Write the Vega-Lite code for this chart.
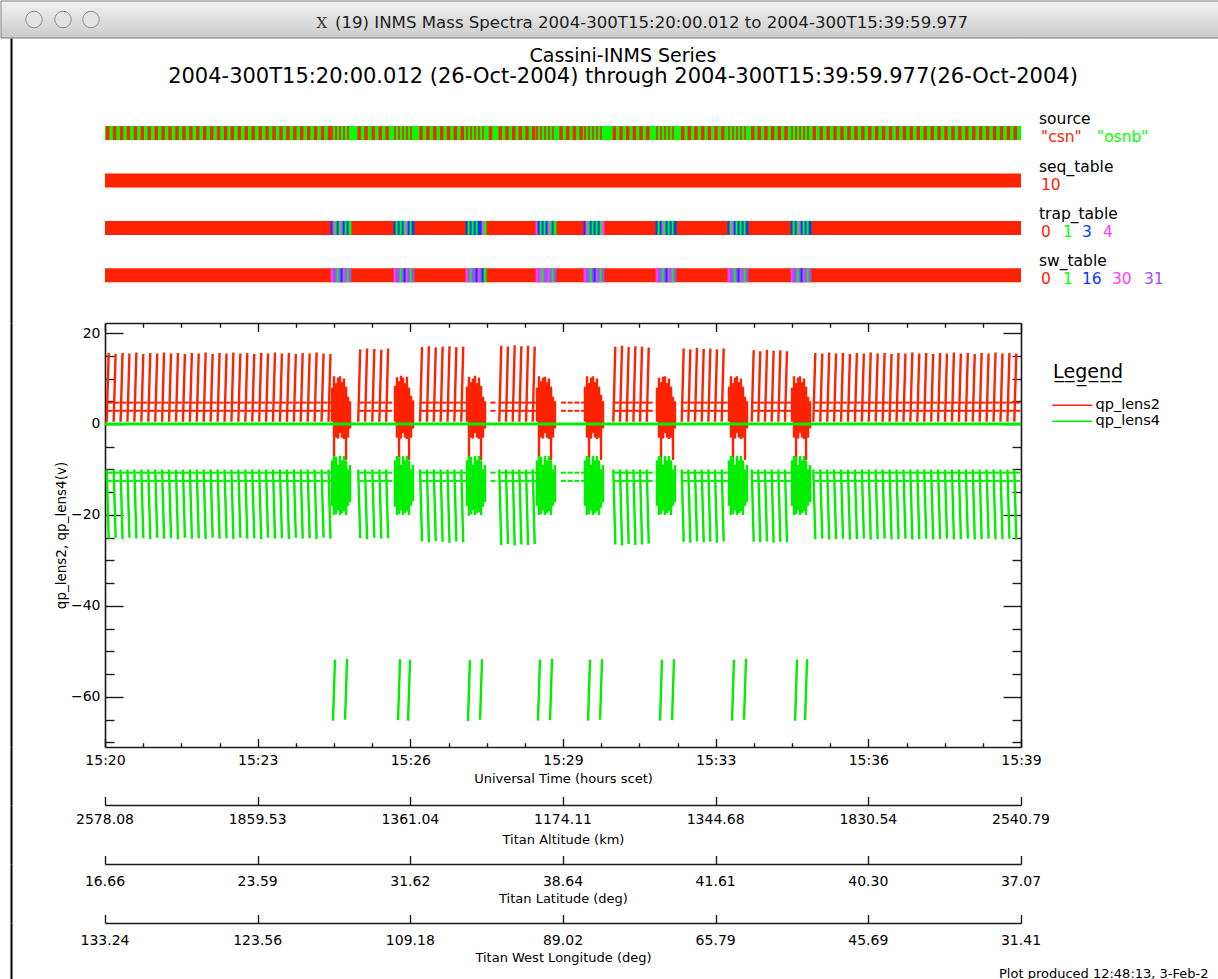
{
  "$schema": "https://vega.github.io/schema/vega-lite/v6.json",
  "padding": 0,
  "background": "#ffffff",
  "bounds": "flush",
  "spacing": 0,
  "config": {
    "font": "DejaVu Sans",
    "view": {"stroke": null},
    "axis": {
      "grid": false,
      "domainColor": "#1a1a1a",
      "tickColor": "#1a1a1a",
      "labelColor": "#000000",
      "titleColor": "#000000",
      "labelFontSize": 14,
      "titleFontSize": 13,
      "titleFontWeight": "normal",
      "domainWidth": 1.6,
      "tickWidth": 1.4,
      "labelFlush": false,
      "labelOverlap": false,
      "labelBound": false
    },
    "title": {"fontWeight": "normal", "color": "#000000"}
  },
  "resolve": {
    "scale": {"x": "independent", "y": "independent", "color": "independent"},
    "legend": {"color": "independent"}
  },
  "datasets": {
    "cyc": [
      {"t":3.5,"r":15.6,"g":-25.2},{"t":12.6,"r":15.4,"g":-25.0},{"t":21.7,"r":15.6,"g":-25.3},{"t":30.7,"r":15.5,"g":-25.0},
      {"t":39.8,"r":15.7,"g":-25.2},{"t":48.9,"r":15.4,"g":-25.1},{"t":58.0,"r":15.6,"g":-25.3},{"t":67.1,"r":15.5,"g":-25.0},
      {"t":76.1,"r":15.7,"g":-25.2},{"t":85.2,"r":15.5,"g":-25.1},{"t":94.3,"r":15.6,"g":-25.3},{"t":103.4,"r":15.4,"g":-25.0},
      {"t":112.5,"r":15.6,"g":-25.2},{"t":121.5,"r":15.5,"g":-25.1},{"t":130.6,"r":15.7,"g":-25.3},{"t":139.7,"r":15.4,"g":-25.0},
      {"t":148.8,"r":15.6,"g":-25.2},{"t":157.9,"r":15.5,"g":-25.1},{"t":166.9,"r":15.7,"g":-25.3},{"t":176.0,"r":15.5,"g":-25.0},
      {"t":185.1,"r":15.6,"g":-25.2},{"t":194.2,"r":15.4,"g":-25.1},{"t":203.3,"r":15.6,"g":-25.3},{"t":212.3,"r":15.5,"g":-25.0},
      {"t":221.4,"r":15.7,"g":-25.2},{"t":230.5,"r":15.5,"g":-25.1},{"t":239.6,"r":15.6,"g":-25.3},{"t":248.7,"r":15.4,"g":-25.0},
      {"t":257.7,"r":15.6,"g":-25.2},{"t":266.8,"r":15.5,"g":-25.1},{"t":275.9,"r":15.7,"g":-25.3},{"t":285.0,"r":15.5,"g":-25.0},
      {"t":294.1,"r":15.4,"g":-25.2},
      {"t":333.0,"r":16.4,"g":-25.1},{"t":342.0,"r":16.6,"g":-25.3},{"t":351.5,"r":16.5,"g":-25.0},{"t":360.7,"r":16.3,"g":-25.2},
      {"t":369.6,"r":16.6,"g":-25.1},
      {"t":414.0,"r":16.9,"g":-25.8},{"t":423.0,"r":17.1,"g":-26.0},{"t":432.0,"r":16.8,"g":-25.7},{"t":441.0,"r":17.0,"g":-25.9},
      {"t":450.0,"r":17.1,"g":-26.1},{"t":459.0,"r":16.9,"g":-25.8},{"t":468.0,"r":17.0,"g":-26.0},
      {"t":505.0},
      {"t":517.8,"r":17.2,"g":-26.6},{"t":526.6,"r":17.0,"g":-26.4},{"t":535.4,"r":17.3,"g":-26.7},{"t":544.1,"r":17.1,"g":-26.5},
      {"t":552.9,"r":17.2,"g":-26.6},{"t":561.6,"r":17.0,"g":-26.4},
      {"t":597.4},{"t":606.1},{"t":614.9},{"t":623.6},
      {"t":667.2,"r":17.0,"g":-26.5},{"t":676.0,"r":17.2,"g":-26.7},{"t":684.7,"r":16.9,"g":-26.4},{"t":693.5,"r":17.1,"g":-26.6},
      {"t":702.2,"r":17.0,"g":-26.5},{"t":711.0,"r":16.8,"g":-26.3},
      {"t":756.8,"r":16.6,"g":-25.9},{"t":765.5,"r":16.4,"g":-26.1},{"t":774.2,"r":16.7,"g":-25.8},{"t":783.0,"r":16.5,"g":-26.0},
      {"t":791.7,"r":16.6,"g":-25.9},{"t":800.4,"r":16.4,"g":-26.1},{"t":809.2,"r":16.6,"g":-25.8},
      {"t":848.5,"r":16.2,"g":-25.9},{"t":857.1,"r":16.0,"g":-26.0},{"t":865.9,"r":16.3,"g":-25.8},{"t":874.6,"r":16.1,"g":-26.1},
      {"t":883.4,"r":16.2,"g":-25.9},{"t":892.1,"r":16.0,"g":-26.0},
      {"t":929.2,"r":15.6,"g":-25.3},{"t":938.3,"r":15.5,"g":-25.2},{"t":947.4,"r":15.7,"g":-25.4},{"t":956.4,"r":15.5,"g":-25.3},
      {"t":965.5,"r":15.6,"g":-25.2},{"t":974.6,"r":15.4,"g":-25.4},{"t":983.7,"r":15.6,"g":-25.3},{"t":992.8,"r":15.5,"g":-25.2},
      {"t":1001.8,"r":15.7,"g":-25.4},{"t":1010.9,"r":15.5,"g":-25.3},{"t":1020.0,"r":15.6,"g":-25.2},{"t":1029.1,"r":15.4,"g":-25.4},
      {"t":1038.2,"r":15.6,"g":-25.3},{"t":1047.3,"r":15.5,"g":-25.2},{"t":1056.3,"r":15.7,"g":-25.4},{"t":1065.4,"r":15.5,"g":-25.3},
      {"t":1074.5,"r":15.6,"g":-25.2},{"t":1083.6,"r":15.4,"g":-25.4},{"t":1092.7,"r":15.6,"g":-25.3},{"t":1101.7,"r":15.5,"g":-25.2},
      {"t":1110.8,"r":15.7,"g":-25.4},{"t":1119.9,"r":15.5,"g":-25.3},{"t":1129.0,"r":15.6,"g":-25.2},{"t":1138.1,"r":15.4,"g":-25.4},
      {"t":1147.1,"r":15.6,"g":-25.3},{"t":1156.2,"r":15.5,"g":-25.2},{"t":1165.3,"r":15.7,"g":-25.4},{"t":1174.4,"r":15.5,"g":-25.3},
      {"t":1183.5,"r":15.6,"g":-25.2},{"t":1192.5,"r":15.5,"g":-25.3}
    ],
    "blk": [
      {"t":297.4,"r1":0.5,"r2":8.0,"g1":-8.0,"g2":-18.0,"tr":"3","sw":"30","src":"csn"},
      {"t":300.0,"r1":-7.9,"r2":10.5,"g1":-7.0,"g2":-20.0,"tr":"4","sw":"31","src":"osnb","d":-65.2,"e":-51.8},
      {"t":302.7,"r1":-3.0,"r2":9.0,"g1":-7.2,"g2":-19.8,"tr":"1","sw":"31","src":"csn"},
      {"t":305.3,"r1":-3.2,"r2":10.2,"g1":-9.0,"g2":-19.0,"tr":"3","sw":"1","src":"osnb"},
      {"t":307.9,"r1":-2.0,"r2":10.5,"g1":-7.0,"g2":-20.0,"tr":"1","sw":"31","src":"csn"},
      {"t":310.5,"r1":-3.0,"r2":9.2,"g1":-8.0,"g2":-19.6,"tr":"4","sw":"16","src":"osnb"},
      {"t":313.1,"r1":-3.3,"r2":10.0,"g1":-7.0,"g2":-19.2,"tr":"3","sw":"30","src":"csn"},
      {"t":315.8,"r1":-7.9,"r2":8.2,"g1":-8.0,"g2":-20.0,"tr":"1","sw":"31","src":"osnb","d":-65.0,"e":-51.6},
      {"t":318.4,"r1":-3.0,"r2":6.0,"g1":-10.0,"g2":-18.0,"tr":"3","sw":"1","src":"csn"},
      {"t":321.0,"r1":-1.0,"r2":5.0,"g1":-9.0,"g2":-17.2,"tr":"1","sw":"31","src":"osnb"},

      {"t":379.9,"r1":0.5,"r2":8.4,"g1":-8.0,"g2":-18.2,"tr":"3","sw":"30","src":"csn"},
      {"t":382.5,"r1":-3.0,"r2":10.3,"g1":-7.0,"g2":-20.0,"tr":"1","sw":"31","src":"osnb"},
      {"t":385.2,"r1":-7.9,"r2":9.4,"g1":-7.2,"g2":-19.8,"tr":"3","sw":"31","src":"csn","d":-65.1,"e":-51.7},
      {"t":387.8,"r1":-3.2,"r2":10.6,"g1":-9.0,"g2":-19.0,"tr":"1","sw":"1","src":"osnb"},
      {"t":390.4,"r1":-2.0,"r2":10.2,"g1":-7.0,"g2":-20.0,"tr":"3","sw":"31","src":"csn"},
      {"t":393.0,"r1":-3.0,"r2":9.0,"g1":-8.0,"g2":-19.6,"tr":"1","sw":"16","src":"osnb"},
      {"t":395.6,"r1":-3.3,"r2":10.4,"g1":-7.0,"g2":-19.2,"tr":"4","sw":"30","src":"csn"},
      {"t":398.3,"r1":-7.9,"r2":8.0,"g1":-8.0,"g2":-20.0,"tr":"3","sw":"31","src":"osnb","d":-65.2,"e":-51.8},
      {"t":400.9,"r1":-3.0,"r2":6.2,"g1":-10.0,"g2":-18.0,"tr":"1","sw":"1","src":"csn"},
      {"t":403.5,"r1":-1.0,"r2":5.2,"g1":-9.0,"g2":-17.0,"tr":"3","sw":"31","src":"osnb"},

      {"t":474.2,"r1":0.5,"r2":8.2,"g1":-8.0,"g2":-18.0,"tr":"3","sw":"30","src":"csn"},
      {"t":476.8,"r1":-7.9,"r2":10.4,"g1":-7.0,"g2":-20.2,"tr":"1","sw":"31","src":"osnb","d":-65.3,"e":-51.9},
      {"t":479.5,"r1":-3.0,"r2":9.2,"g1":-7.2,"g2":-19.8,"tr":"3","sw":"1","src":"csn"},
      {"t":482.1,"r1":-3.2,"r2":10.0,"g1":-9.0,"g2":-19.0,"tr":"1","sw":"31","src":"osnb"},
      {"t":484.7,"r1":-2.0,"r2":10.6,"g1":-7.0,"g2":-20.0,"tr":"3","sw":"31","src":"csn"},
      {"t":487.3,"r1":-3.0,"r2":9.0,"g1":-8.0,"g2":-19.6,"tr":"1","sw":"16","src":"osnb"},
      {"t":489.9,"r1":-3.3,"r2":10.2,"g1":-7.0,"g2":-19.4,"tr":"3","sw":"30","src":"csn"},
      {"t":492.6,"r1":-7.9,"r2":8.4,"g1":-8.0,"g2":-20.0,"tr":"3","sw":"31","src":"osnb","d":-65.0,"e":-51.7},
      {"t":495.2,"r1":-3.0,"r2":6.0,"g1":-10.0,"g2":-18.2,"tr":"4","sw":"16","src":"csn"},
      {"t":497.8,"r1":-1.0,"r2":5.0,"g1":-9.0,"g2":-17.2,"tr":"1","sw":"1","src":"osnb"},

      {"t":565.9,"r1":0.5,"r2":8.0,"g1":-8.0,"g2":-18.0,"tr":"4","sw":"30","src":"csn"},
      {"t":568.5,"r1":-7.9,"r2":10.5,"g1":-7.0,"g2":-20.0,"tr":"3","sw":"31","src":"osnb","d":-65.2,"e":-51.8},
      {"t":571.2,"r1":-3.0,"r2":9.4,"g1":-7.2,"g2":-19.8,"tr":"1","sw":"30","src":"csn"},
      {"t":573.8,"r1":-3.2,"r2":10.2,"g1":-9.0,"g2":-19.0,"tr":"3","sw":"1","src":"osnb"},
      {"t":576.4,"r1":-2.0,"r2":10.4,"g1":-7.0,"g2":-20.0,"tr":"1","sw":"31","src":"csn"},
      {"t":579.0,"r1":-3.0,"r2":9.2,"g1":-8.0,"g2":-19.6,"tr":"3","sw":"31","src":"osnb"},
      {"t":581.6,"r1":-3.3,"r2":10.0,"g1":-7.0,"g2":-19.2,"tr":"4","sw":"30","src":"csn"},
      {"t":584.3,"r1":-7.9,"r2":8.2,"g1":-8.0,"g2":-20.0,"tr":"1","sw":"31","src":"osnb","d":-65.1,"e":-51.6},
      {"t":586.9,"r1":-3.0,"r2":6.0,"g1":-10.0,"g2":-18.0,"tr":"3","sw":"1","src":"csn"},
      {"t":589.5,"r1":-1.0,"r2":5.0,"g1":-9.0,"g2":-17.2,"tr":"1","sw":"31","src":"osnb"},

      {"t":628.8,"r1":0.5,"r2":8.2,"g1":-8.0,"g2":-18.0,"tr":"3","sw":"30","src":"csn"},
      {"t":631.4,"r1":-3.0,"r2":10.5,"g1":-7.0,"g2":-20.0,"tr":"4","sw":"31","src":"osnb"},
      {"t":634.1,"r1":-7.9,"r2":9.0,"g1":-7.2,"g2":-19.8,"tr":"1","sw":"31","src":"csn","d":-65.2,"e":-51.8},
      {"t":636.7,"r1":-3.2,"r2":10.2,"g1":-9.0,"g2":-19.0,"tr":"3","sw":"1","src":"osnb"},
      {"t":639.3,"r1":-2.0,"r2":10.5,"g1":-7.0,"g2":-20.0,"tr":"1","sw":"31","src":"csn"},
      {"t":641.9,"r1":-3.0,"r2":9.2,"g1":-8.0,"g2":-19.6,"tr":"3","sw":"16","src":"osnb"},
      {"t":644.5,"r1":-3.3,"r2":10.0,"g1":-7.0,"g2":-19.2,"tr":"1","sw":"30","src":"csn"},
      {"t":647.2,"r1":-3.0,"r2":8.2,"g1":-8.0,"g2":-20.0,"tr":"3","sw":"31","src":"osnb"},
      {"t":649.8,"r1":-7.9,"r2":6.4,"g1":-10.0,"g2":-18.4,"tr":"1","sw":"1","src":"csn","d":-65.0,"e":-51.7},
      {"t":652.4,"r1":-1.0,"r2":5.0,"g1":-9.0,"g2":-17.2,"tr":"4","sw":"31","src":"osnb"},

      {"t":723.1,"r1":0.5,"r2":8.0,"g1":-8.0,"g2":-18.0,"tr":"3","sw":"30","src":"csn"},
      {"t":725.7,"r1":-3.0,"r2":10.2,"g1":-7.0,"g2":-20.0,"tr":"1","sw":"31","src":"osnb"},
      {"t":728.4,"r1":-7.9,"r2":9.2,"g1":-7.2,"g2":-19.8,"tr":"3","sw":"31","src":"csn","d":-65.2,"e":-51.8},
      {"t":731.0,"r1":-3.2,"r2":10.4,"g1":-9.0,"g2":-19.0,"tr":"4","sw":"1","src":"osnb"},
      {"t":733.6,"r1":-2.0,"r2":10.5,"g1":-7.0,"g2":-20.0,"tr":"1","sw":"31","src":"csn"},
      {"t":736.2,"r1":-3.0,"r2":9.0,"g1":-8.0,"g2":-19.6,"tr":"3","sw":"16","src":"osnb"},
      {"t":738.8,"r1":-3.3,"r2":10.0,"g1":-7.0,"g2":-19.2,"tr":"1","sw":"30","src":"csn"},
      {"t":741.5,"r1":-3.0,"r2":8.2,"g1":-8.0,"g2":-20.0,"tr":"3","sw":"31","src":"osnb"},
      {"t":744.1,"r1":-7.9,"r2":6.0,"g1":-10.0,"g2":-18.0,"tr":"1","sw":"1","src":"csn","d":-65.1,"e":-51.7},
      {"t":746.7,"r1":-1.0,"r2":5.0,"g1":-9.0,"g2":-17.2,"tr":"3","sw":"31","src":"osnb"},

      {"t":817.4,"r1":0.5,"r2":8.2,"g1":-8.0,"g2":-18.0,"tr":"3","sw":"30","src":"csn"},
      {"t":820.0,"r1":-3.0,"r2":10.5,"g1":-7.0,"g2":-20.0,"tr":"1","sw":"31","src":"osnb"},
      {"t":822.7,"r1":-7.9,"r2":9.0,"g1":-7.2,"g2":-19.8,"tr":"4","sw":"31","src":"csn","d":-65.2,"e":-51.8},
      {"t":825.3,"r1":-3.2,"r2":10.2,"g1":-9.0,"g2":-19.0,"tr":"3","sw":"1","src":"osnb"},
      {"t":827.9,"r1":-2.0,"r2":10.5,"g1":-7.0,"g2":-20.0,"tr":"1","sw":"31","src":"csn"},
      {"t":830.5,"r1":-3.0,"r2":9.2,"g1":-8.0,"g2":-19.6,"tr":"3","sw":"16","src":"osnb"},
      {"t":833.1,"r1":-3.3,"r2":10.0,"g1":-7.0,"g2":-19.2,"tr":"1","sw":"30","src":"csn"},
      {"t":835.8,"r1":-3.0,"r2":8.2,"g1":-8.0,"g2":-20.0,"tr":"3","sw":"31","src":"osnb"},
      {"t":838.4,"r1":-7.9,"r2":6.0,"g1":-10.0,"g2":-18.0,"tr":"1","sw":"1","src":"csn","d":-65.0,"e":-51.6},
      {"t":841.0,"r1":-1.0,"r2":5.0,"g1":-9.0,"g2":-17.2,"tr":"3","sw":"31","src":"osnb"},

      {"t":900.0,"r1":0.5,"r2":8.0,"g1":-8.0,"g2":-18.0,"tr":"3","sw":"30","src":"csn"},
      {"t":902.6,"r1":-3.0,"r2":10.5,"g1":-7.0,"g2":-20.0,"tr":"1","sw":"31","src":"osnb"},
      {"t":905.3,"r1":-7.9,"r2":9.0,"g1":-7.2,"g2":-19.8,"tr":"3","sw":"31","src":"csn","d":-65.2,"e":-51.8},
      {"t":907.9,"r1":-3.2,"r2":10.2,"g1":-9.0,"g2":-19.0,"tr":"1","sw":"1","src":"osnb"},
      {"t":910.5,"r1":-2.0,"r2":10.5,"g1":-7.0,"g2":-20.0,"tr":"4","sw":"31","src":"csn"},
      {"t":913.1,"r1":-3.0,"r2":9.2,"g1":-8.0,"g2":-19.6,"tr":"3","sw":"16","src":"osnb"},
      {"t":915.7,"r1":-3.3,"r2":10.0,"g1":-7.0,"g2":-19.2,"tr":"1","sw":"30","src":"csn"},
      {"t":918.4,"r1":-7.9,"r2":8.2,"g1":-8.0,"g2":-20.0,"tr":"3","sw":"31","src":"osnb","d":-65.1,"e":-51.7},
      {"t":921.0,"r1":-3.0,"r2":6.0,"g1":-10.0,"g2":-18.0,"tr":"1","sw":"1","src":"csn"},
      {"t":923.6,"r1":-1.0,"r2":5.0,"g1":-9.0,"g2":-17.2,"tr":"3","sw":"31","src":"osnb"}
    ],
    "bars": [
      {"row":"source","a":0,"b":1199.965,"c":"osnb"},
      {"row":"seq_table","a":0,"b":1199.965,"c":"10"},
      {"row":"trap_table","a":0,"b":1199.965,"c":"0"},
      {"row":"sw_table","a":0,"b":1199.965,"c":"0"}
    ],
    "vals": [
      {"row":"source","txt":"\"csn\"","c":"csn","k":0},
      {"row":"source","txt":"\"osnb\"","c":"osnb","k":3},
      {"row":"seq_table","txt":"10","c":"10","k":0},
      {"row":"trap_table","txt":"0","c":"0","k":0},
      {"row":"trap_table","txt":"1","c":"1","k":1},
      {"row":"trap_table","txt":"3","c":"3","k":2},
      {"row":"trap_table","txt":"4","c":"4","k":4},
      {"row":"sw_table","txt":"0","c":"0","k":0},
      {"row":"sw_table","txt":"1","c":"1","k":1},
      {"row":"sw_table","txt":"16","c":"16","k":2},
      {"row":"sw_table","txt":"30","c":"30","k":5},
      {"row":"sw_table","txt":"31","c":"31","k":6}
    ],
    "base": [{"a":0,"b":1199.965,"v":0}],
    "geo": [
      {"t":0,"alt":2578.08,"lat":16.66,"lon":133.24},
      {"t":199.994,"alt":1859.53,"lat":23.59,"lon":123.56},
      {"t":399.988,"alt":1361.04,"lat":31.62,"lon":109.18},
      {"t":599.983,"alt":1174.11,"lat":38.64,"lon":89.02},
      {"t":799.977,"alt":1344.68,"lat":41.61,"lon":65.79},
      {"t":999.971,"alt":1830.54,"lat":40.30,"lon":45.69},
      {"t":1199.965,"alt":2540.79,"lat":37.07,"lon":31.41}
    ]
  },
  "vconcat": [
    {
      "width": 1218,
      "height": 37,
      "layer": [
        {
          "data": {"values": [{"a": 0, "b": 1}]},
          "mark": {"type": "rect", "fill": {"gradient": "linear", "x1": 0, "y1": 0, "x2": 0, "y2": 1, "stops": [{"offset": 0, "color": "#f2f2f2"}, {"offset": 1, "color": "#cbcbcb"}]}, "stroke": "#7c7c7c", "strokeWidth": 1},
          "encoding": {
            "x": {"field": "a", "type": "quantitative", "scale": {"domain": [0, 1]}, "axis": null},
            "x2": {"field": "b"}
          }
        },
        {
          "data": {"values": [{"p": 0.0271}, {"p": 0.0509}, {"p": 0.0739}]},
          "mark": {"type": "point", "filled": true, "size": 272, "fill": "#e3e3e3", "stroke": "#8a8a8a", "strokeWidth": 1, "opacity": 1},
          "encoding": {"x": {"field": "p", "type": "quantitative", "axis": null}}
        },
        {
          "data": {"values": [{"p": 0.2635, "txt": "X"}]},
          "mark": {"type": "text", "font": "DejaVu Serif", "fontSize": 15, "align": "center", "baseline": "middle", "dy": 3, "color": "#333333"},
          "encoding": {"x": {"field": "p", "type": "quantitative", "axis": null}, "text": {"field": "txt"}}
        },
        {
          "data": {"values": [{"p": 0.2742, "txt": "(19) INMS Mass Spectra 2004-300T15:20:00.012 to 2004-300T15:39:59.977"}]},
          "mark": {"type": "text", "fontSize": 16.6, "align": "left", "baseline": "middle", "dy": 3, "color": "#1e1e1e"},
          "encoding": {"x": {"field": "p", "type": "quantitative", "axis": null}, "text": {"field": "txt"}}
        }
      ]
    },
    {
      "width": 1218,
      "height": 285,
      "title": {
        "text": "Cassini-INMS Series",
        "subtitle": "2004-300T15:20:00.012 (26-Oct-2004) through 2004-300T15:39:59.977(26-Oct-2004)",
        "anchor": "middle",
        "frame": "group",
        "dx": 13,
        "offset": -49,
        "fontSize": 19,
        "subtitleFontSize": 21,
        "subtitlePadding": 0,
        "font": "DejaVu Sans",
        "subtitleFont": "DejaVu Sans",
        "color": "#000000",
        "subtitleColor": "#000000"
      },
      "resolve": {"axis": {"y": "independent"}},
      "layer": [
        {
          "data": {"name": "bars"},
          "mark": {"type": "rect"},
          "encoding": {
            "x": {"field": "a", "type": "quantitative", "scale": {"domain": [0, 1199.965], "range": [104, 1020], "nice": false, "zero": false}, "axis": null},
            "x2": {"field": "b"},
            "y": {
              "field": "row", "type": "nominal",
              "scale": {"domain": [" ", "source", "seq_table", "trap_table", "sw_table"], "paddingInner": 0.704, "paddingOuter": 0.859, "align": 0.5},
              "axis": null
            },
            "color": {
              "field": "c", "type": "nominal",
              "scale": {
                "domain": ["csn", "osnb", "10", "0", "1", "3", "4", "16", "30", "31"],
                "range": ["#ff2200", "#00ff00", "#ff2200", "#ff2200", "#00ff00", "#0040ff", "#ff40ff", "#0040ff", "#ff40ff", "#a050ff"]
              },
              "legend": null
            }
          }
        },
        {
          "data": {"name": "cyc"},
          "mark": {"type": "tick", "thickness": 3.4, "size": 14, "opacity": 1},
          "encoding": {
            "x": {"field": "t", "type": "quantitative"},
            "y": {"datum": "source", "type": "nominal", "axis": null},
            "color": {"datum": "csn", "type": "nominal", "legend": null}
          }
        },
        {
          "data": {"name": "blk"},
          "mark": {"type": "tick", "thickness": 1.6, "size": 14, "opacity": 1},
          "encoding": {
            "x": {"field": "t", "type": "quantitative"},
            "y": {"datum": "source", "type": "nominal", "axis": null},
            "color": {"field": "src", "type": "nominal", "legend": null}
          }
        },
        {
          "data": {"name": "blk"},
          "mark": {"type": "tick", "thickness": 2.8, "size": 14, "opacity": 1},
          "encoding": {
            "x": {"field": "t", "type": "quantitative"},
            "y": {"datum": "trap_table", "type": "nominal", "axis": null},
            "color": {"field": "tr", "type": "nominal", "legend": null}
          }
        },
        {
          "data": {"name": "blk"},
          "mark": {"type": "tick", "thickness": 2.8, "size": 14, "opacity": 1},
          "encoding": {
            "x": {"field": "t", "type": "quantitative"},
            "y": {
              "datum": "sw_table", "type": "nominal",
              "axis": {"orient": "left", "offset": -10, "domain": true, "ticks": false, "labels": false, "title": null, "domainColor": "#000000", "domainWidth": 2}
            },
            "color": {"field": "sw", "type": "nominal", "legend": null}
          }
        },
        {
          "data": {"name": "bars"},
          "mark": {"type": "text", "align": "left", "baseline": "middle", "dx": 18, "dy": -14, "fontSize": 15.5, "color": "#000000"},
          "encoding": {
            "x": {"datum": 1199.965, "type": "quantitative"},
            "y": {"field": "row", "type": "nominal", "axis": null},
            "text": {"field": "row"}
          }
        },
        {
          "data": {"name": "vals"},
          "transform": [{"filter": "datum.k == 0"}],
          "mark": {"type": "text", "align": "left", "baseline": "middle", "dx": 20, "dy": 4, "fontSize": 15.5},
          "encoding": {
            "x": {"datum": 1199.965, "type": "quantitative"},
            "y": {"field": "row", "type": "nominal", "axis": null},
            "text": {"field": "txt"},
            "color": {"field": "c", "type": "nominal", "legend": null}
          }
        },
        {
          "data": {"name": "vals"},
          "transform": [{"filter": "datum.k == 1"}],
          "mark": {"type": "text", "align": "left", "baseline": "middle", "dx": 42, "dy": 4, "fontSize": 15.5},
          "encoding": {
            "x": {"datum": 1199.965, "type": "quantitative"},
            "y": {"field": "row", "type": "nominal", "axis": null},
            "text": {"field": "txt"},
            "color": {"field": "c", "type": "nominal", "legend": null}
          }
        },
        {
          "data": {"name": "vals"},
          "transform": [{"filter": "datum.k == 2"}],
          "mark": {"type": "text", "align": "left", "baseline": "middle", "dx": 61, "dy": 4, "fontSize": 15.5},
          "encoding": {
            "x": {"datum": 1199.965, "type": "quantitative"},
            "y": {"field": "row", "type": "nominal", "axis": null},
            "text": {"field": "txt"},
            "color": {"field": "c", "type": "nominal", "legend": null}
          }
        },
        {
          "data": {"name": "vals"},
          "transform": [{"filter": "datum.k == 3"}],
          "mark": {"type": "text", "align": "left", "baseline": "middle", "dx": 76, "dy": 4, "fontSize": 15.5},
          "encoding": {
            "x": {"datum": 1199.965, "type": "quantitative"},
            "y": {"field": "row", "type": "nominal", "axis": null},
            "text": {"field": "txt"},
            "color": {"field": "c", "type": "nominal", "legend": null}
          }
        },
        {
          "data": {"name": "vals"},
          "transform": [{"filter": "datum.k == 4"}],
          "mark": {"type": "text", "align": "left", "baseline": "middle", "dx": 82, "dy": 4, "fontSize": 15.5},
          "encoding": {
            "x": {"datum": 1199.965, "type": "quantitative"},
            "y": {"field": "row", "type": "nominal", "axis": null},
            "text": {"field": "txt"},
            "color": {"field": "c", "type": "nominal", "legend": null}
          }
        },
        {
          "data": {"name": "vals"},
          "transform": [{"filter": "datum.k == 5"}],
          "mark": {"type": "text", "align": "left", "baseline": "middle", "dx": 91, "dy": 4, "fontSize": 15.5},
          "encoding": {
            "x": {"datum": 1199.965, "type": "quantitative"},
            "y": {"field": "row", "type": "nominal", "axis": null},
            "text": {"field": "txt"},
            "color": {"field": "c", "type": "nominal", "legend": null}
          }
        },
        {
          "data": {"name": "vals"},
          "transform": [{"filter": "datum.k == 6"}],
          "mark": {"type": "text", "align": "left", "baseline": "middle", "dx": 123, "dy": 4, "fontSize": 15.5},
          "encoding": {
            "x": {"datum": 1199.965, "type": "quantitative"},
            "y": {"field": "row", "type": "nominal", "axis": null},
            "text": {"field": "txt"},
            "color": {"field": "c", "type": "nominal", "legend": null}
          }
        }
      ]
    },
    {
      "width": 1218,
      "height": 424,
      "resolve": {"axis": {"x": "independent", "y": "independent"}},
      "layer": [
        {
          "data": {"name": "cyc"},
          "mark": {"type": "rule", "strokeWidth": 2.4, "xOffset": 1, "x2Offset": -1},
          "encoding": {
            "x": {
              "field": "t", "type": "quantitative",
              "scale": {"domain": [0, 1199.965], "range": [104, 1020], "nice": false, "zero": false},
              "axis": {
                "orient": "bottom",
                "values": [0, 199.994, 399.988, 599.983, 799.977, 999.971, 1199.965],
                "labelExpr": "utcFormat(utc(2004, 9, 26, 15, 20, 0, 12) + datum.value * 1000, '%H:%M')",
                "tickSize": -8.5,
                "labelPadding": 15,
                "title": "Universal Time (hours scet)",
                "titlePadding": 5
              }
            },
            "x2": {"field": "t"},
            "y": {
              "field": "r", "type": "quantitative",
              "scale": {"domain": [-71, 22.2], "nice": false, "zero": false},
              "axis": {
                "orient": "left",
                "offset": -104,
                "values": [-60, -40, -20, 0, 20],
                "format": "d",
                "tickSize": -18,
                "labelPadding": 23,
                "title": "qp_lens2, qp_lens4(v)",
                "titleFontSize": 13.5,
                "titlePadding": 2
              }
            },
            "y2": {"datum": 0.5},
            "color": {
              "datum": "qp_lens2", "type": "nominal",
              "scale": {"domain": ["qp_lens2", "qp_lens4"], "range": ["#ff2200", "#00ee00"]},
              "legend": {
                "title": "L\u0332e\u0332g\u0332e\u0332n\u0332d\u0332",
                "orient": "none",
                "legendX": 1052,
                "legendY": 40,
                "symbolType": "M-5,0H5",
                "symbolSize": 64,
                "symbolOffset": 12,
                "symbolStrokeWidth": 1.5,
                "labelOffset": 16,
                "labelFontSize": 14.5,
                "labelColor": "#000000",
                "titleFontSize": 19,
                "titleFontWeight": "normal",
                "titleColor": "#000000",
                "titlePadding": 16,
                "rowPadding": 1,
                "padding": 0
              }
            }
          }
        },
        {
          "data": {"name": "cyc"},
          "mark": {"type": "tick", "orient": "horizontal", "size": 5, "thickness": 2, "xOffset": 2.5, "opacity": 1},
          "encoding": {
            "x": {
              "field": "t", "type": "quantitative",
              "axis": {"orient": "top", "values": [0, 199.994, 399.988, 599.983, 799.977, 999.971, 1199.965], "tickSize": -8.5, "labels": false, "domain": true, "title": null}
            },
            "y": {
              "datum": 4.7, "type": "quantitative",
              "axis": {"orient": "right", "offset": -198, "values": [-60, -40, -20, 0, 20], "tickSize": -18, "labels": false, "domain": true, "title": null}
            },
            "color": {"datum": "qp_lens2", "type": "nominal"}
          }
        },
        {
          "data": {"name": "cyc"},
          "mark": {"type": "tick", "orient": "horizontal", "size": 5, "thickness": 2, "xOffset": 2.5, "opacity": 1},
          "encoding": {
            "x": {
              "field": "t", "type": "quantitative",
              "axis": {"orient": "top", "values": [50, 100, 150, 250, 300, 350, 450, 500, 550, 650, 700, 750, 850, 900, 950, 1050, 1100, 1150], "tickSize": -4.3, "labels": false, "domain": false, "title": null}
            },
            "y": {
              "datum": 2.9, "type": "quantitative",
              "axis": {"orient": "right", "offset": -198, "values": [-70, -65, -55, -50, -45, -35, -30, -25, -15, -10, -5, 5, 10, 15], "tickSize": -9, "labels": false, "domain": false, "title": null}
            },
            "color": {"datum": "qp_lens2", "type": "nominal"}
          }
        },
        {
          "data": {"name": "blk"},
          "mark": {"type": "rule", "strokeWidth": 2.4},
          "encoding": {
            "x": {"field": "t", "type": "quantitative", "axis": null},
            "y": {"field": "r1", "type": "quantitative", "axis": null},
            "y2": {"field": "r2"},
            "color": {"datum": "qp_lens2", "type": "nominal"}
          }
        },
        {
          "data": {"name": "cyc"},
          "mark": {"type": "rule", "strokeWidth": 2.4, "xOffset": 1, "x2Offset": -1},
          "encoding": {
            "x": {
              "field": "t", "type": "quantitative",
              "axis": {"orient": "bottom", "values": [50, 100, 150, 250, 300, 350, 450, 500, 550, 650, 700, 750, 850, 900, 950, 1050, 1100, 1150], "tickSize": -4.3, "labels": false, "domain": false, "title": null}
            },
            "x2": {"field": "t"},
            "y": {
              "field": "g", "type": "quantitative",
              "axis": {"orient": "left", "offset": -104, "values": [-70, -65, -55, -50, -45, -35, -30, -25, -15, -10, -5, 5, 10, 15], "tickSize": -9, "labels": false, "domain": false, "title": null}
            },
            "y2": {"datum": -10},
            "color": {"datum": "qp_lens4", "type": "nominal"}
          }
        },
        {
          "data": {"name": "cyc"},
          "mark": {"type": "tick", "orient": "horizontal", "size": 5, "thickness": 2, "xOffset": 2.5, "opacity": 1},
          "encoding": {
            "x": {"field": "t", "type": "quantitative", "axis": null},
            "y": {
              "datum": -10.7, "type": "quantitative",
              "axis": {"orient": "left", "offset": -10, "domain": true, "ticks": false, "labels": false, "title": null, "domainColor": "#000000", "domainWidth": 2}
            },
            "color": {"datum": "qp_lens4", "type": "nominal"}
          }
        },
        {
          "data": {"name": "cyc"},
          "mark": {"type": "tick", "orient": "horizontal", "size": 5, "thickness": 2, "xOffset": 2.5, "opacity": 1},
          "encoding": {
            "x": {"field": "t", "type": "quantitative", "axis": null},
            "y": {"datum": -12.5, "type": "quantitative", "axis": null},
            "color": {"datum": "qp_lens4", "type": "nominal"}
          }
        },
        {
          "data": {"name": "blk"},
          "mark": {"type": "rule", "strokeWidth": 2.4},
          "encoding": {
            "x": {"field": "t", "type": "quantitative", "axis": null},
            "y": {"field": "g1", "type": "quantitative", "axis": null},
            "y2": {"field": "g2"},
            "color": {"datum": "qp_lens4", "type": "nominal"}
          }
        },
        {
          "data": {"name": "blk"},
          "mark": {"type": "rule", "strokeWidth": 2.4, "xOffset": -1, "x2Offset": 1},
          "encoding": {
            "x": {"field": "t", "type": "quantitative", "axis": null},
            "x2": {"field": "t"},
            "y": {"field": "d", "type": "quantitative", "axis": null},
            "y2": {"field": "e"},
            "color": {"datum": "qp_lens4", "type": "nominal"}
          }
        },
        {
          "data": {"name": "base"},
          "mark": {"type": "rule", "strokeWidth": 3},
          "encoding": {
            "x": {"field": "a", "type": "quantitative", "axis": null},
            "x2": {"field": "b"},
            "y": {"field": "v", "type": "quantitative", "axis": null},
            "color": {"datum": "qp_lens4", "type": "nominal"}
          }
        }
      ]
    },
    {
      "width": 1218,
      "height": 58,
      "data": {"name": "geo"},
      "mark": {"type": "text", "baseline": "middle", "align": "center", "dy": 44, "fontSize": 14, "color": "#000000"},
      "encoding": {
        "x": {
          "field": "t", "type": "quantitative",
          "scale": {"domain": [0, 1199.965], "range": [104, 1020], "nice": false, "zero": false},
          "axis": {"orient": "bottom", "values": [0, 199.994, 399.988, 599.983, 799.977, 999.971, 1199.965], "tickSize": -8.5, "labels": false, "title": "Titan Altitude (km)", "titlePadding": 28}
        },
        "y": {
          "datum": 1, "type": "quantitative", "scale": {"domain": [0, 2]},
          "axis": {"orient": "left", "offset": -10, "domain": true, "ticks": false, "labels": false, "title": null, "domainColor": "#000000", "domainWidth": 2}
        },
        "text": {"field": "alt", "type": "quantitative", "format": ".2f"}
      }
    },
    {
      "width": 1218,
      "height": 59,
      "data": {"name": "geo"},
      "mark": {"type": "text", "baseline": "middle", "align": "center", "dy": 47.5, "fontSize": 14, "color": "#000000"},
      "encoding": {
        "x": {
          "field": "t", "type": "quantitative",
          "scale": {"domain": [0, 1199.965], "range": [104, 1020], "nice": false, "zero": false},
          "axis": {"orient": "bottom", "values": [0, 199.994, 399.988, 599.983, 799.977, 999.971, 1199.965], "tickSize": -8.5, "labels": false, "title": "Titan Latitude (deg)", "titlePadding": 28}
        },
        "y": {
          "datum": 1, "type": "quantitative", "scale": {"domain": [0, 2]},
          "axis": {"orient": "left", "offset": -10, "domain": true, "ticks": false, "labels": false, "title": null, "domainColor": "#000000", "domainWidth": 2}
        },
        "text": {"field": "lat", "type": "quantitative", "format": ".2f"}
      }
    },
    {
      "width": 1218,
      "height": 59,
      "data": {"name": "geo"},
      "mark": {"type": "text", "baseline": "middle", "align": "center", "dy": 47.5, "fontSize": 14, "color": "#000000"},
      "encoding": {
        "x": {
          "field": "t", "type": "quantitative",
          "scale": {"domain": [0, 1199.965], "range": [104, 1020], "nice": false, "zero": false},
          "axis": {"orient": "bottom", "values": [0, 199.994, 399.988, 599.983, 799.977, 999.971, 1199.965], "tickSize": -8.5, "labels": false, "title": "Titan West Longitude (deg)", "titlePadding": 28}
        },
        "y": {
          "datum": 1, "type": "quantitative", "scale": {"domain": [0, 2]},
          "axis": {"orient": "left", "offset": -10, "domain": true, "ticks": false, "labels": false, "title": null, "domainColor": "#000000", "domainWidth": 2}
        },
        "text": {"field": "lon", "type": "quantitative", "format": ".2f"}
      }
    },
    {
      "width": 1218,
      "height": 57,
      "data": {"values": [{"txt": "Plot produced 12:48:13, 3-Feb-2005"}]},
      "mark": {"type": "text", "align": "left", "baseline": "middle", "dx": -22, "dy": 22, "fontSize": 13, "limit": 220, "ellipsis": " ", "color": "#000000"},
      "encoding": {
        "x": {"datum": 1199.965, "type": "quantitative", "scale": {"domain": [0, 1199.965], "range": [104, 1020], "nice": false, "zero": false}, "axis": null},
        "y": {
          "datum": 1, "type": "quantitative", "scale": {"domain": [0, 2]},
          "axis": {"orient": "left", "offset": -10, "domain": true, "ticks": false, "labels": false, "title": null, "domainColor": "#000000", "domainWidth": 2}
        },
        "text": {"field": "txt"}
      }
    }
  ]
}
